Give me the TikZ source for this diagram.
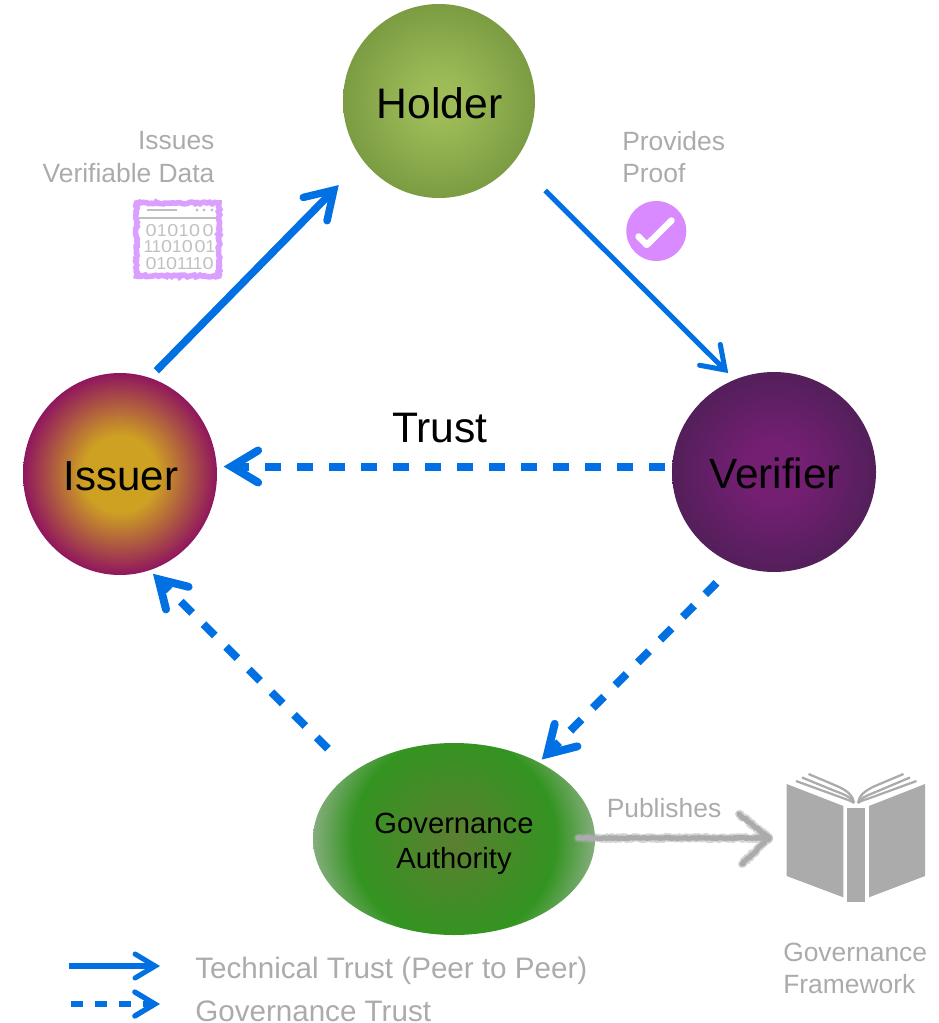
\documentclass[tikz,border=0pt]{standalone}
\usepackage{fontspec}
\setmainfont{Liberation Sans}
\usetikzlibrary{arrows.meta,shapes.geometric,decorations.pathmorphing,calc}
\definecolor{linkblue}{HTML}{0070E2}
\definecolor{softgray}{HTML}{ABABAB}
\definecolor{bookgray}{HTML}{ABABAB}
\definecolor{digitgray}{HTML}{C0C0C0}
\definecolor{lilac}{HTML}{D98AFF}
\definecolor{frameline}{HTML}{DBA0FF}
\definecolor{hA}{HTML}{9DBC58}\definecolor{hB}{HTML}{7C9C43}
\definecolor{iA}{HTML}{CEA122}\definecolor{iB}{HTML}{90165E}
\definecolor{vA}{HTML}{751F73}\definecolor{vB}{HTML}{531F5A}
\definecolor{gA}{HTML}{5C7F32}\definecolor{gB}{HTML}{339420}\definecolor{gC}{HTML}{85AD7D}
\pgfdeclareradialshading{holdershade}{\pgfpointorigin}{color(0bp)=(hA); color(5bp)=(hA); color(25bp)=(hB); color(50bp)=(hB)}
\pgfdeclareradialshading{issuershade}{\pgfpointorigin}{color(0bp)=(iA); color(9.5bp)=(iA); color(25bp)=(iB); color(50bp)=(iB)}
\pgfdeclareradialshading{verifiershade}{\pgfpointorigin}{color(0bp)=(vA); color(7bp)=(vA); color(25bp)=(vB); color(50bp)=(vB)}
\pgfdeclareradialshading{govshade}{\pgfpointorigin}{color(0bp)=(gA); color(18bp)=(gB); color(25bp)=(gC); color(50bp)=(gC)}
\newcommand\fs[1]{\fontsize{#1pt}{#1pt}\selectfont}
\newcommand\dn[2]{\raisebox{-#1}[\height][\depth]{#2}}
\newcommand\oz{\makebox[8.25pt]{\scalebox{1.15}[1]{0}}}
\newcommand\on{\makebox[4.5pt]{1}}
\newcommand\digitrow[1]{\makebox[51pt][s]{#1}}
\tikzset{
  actor/.style={ellipse,inner sep=0pt,outer sep=0pt,text=black},
  solidlink/.style={draw=linkblue,line width=5.6pt,-{Straight Barb[length=20pt,width=25pt,line cap=round]}},
  thinlink/.style={draw=linkblue,line width=3.8pt,-{Straight Barb[length=16pt,width=22pt,line cap=round]}},
  dashlink/.style={draw=linkblue,line width=6pt,dash pattern=on 12pt off 12pt,-{Straight Barb[length=20pt,width=24pt,line cap=round]}},
  keysolid/.style={draw=linkblue,line width=3.8pt,-{Straight Barb[length=15pt,width=18pt,line cap=round]}},
  keydash/.style={draw=linkblue,line width=4pt,dash pattern=on 9pt off 9pt,-{Straight Barb[length=15pt,width=18pt,line cap=round]}},
  smalllabel/.style={text=softgray,font=\fs{19.8},inner sep=0pt},
  keylabel/.style={text=softgray,font=\fs{22.2},anchor=west,inner sep=0pt},
  fuzzywide/.style={draw=softgray,opacity=.5,line width=6pt,decorate,decoration={random steps,segment length=1pt,amplitude=.9pt},line cap=round,line join=round},
  fuzzycore/.style={draw=softgray,line width=3.8pt,decorate,decoration={random steps,segment length=1pt,amplitude=.6pt},line cap=round,line join=round},
  pageline/.style={draw=bookgray,line width=1.7pt},
  digits/.style={text=digitgray,font=\fs{12.9},inner sep=0pt},
}
\begin{document}
\begin{tikzpicture}[x=.75pt,y=-.75pt]
\useasboundingbox (0,0) rectangle (938,1023);
% actors
\node[actor,minimum width=144pt,minimum height=145.5pt,shading=holdershade,font=\fs{32}] (holder) at (439,101) {\hspace{1pt}\dn{1.9pt}{Holder}};
\node[actor,minimum width=145.5pt,minimum height=151.5pt,shading=issuershade,font=\fs{31.5}] (issuer) at (120,474) {\hspace{1.5pt}\dn{1.5pt}{Issuer}};
\node[actor,minimum width=153pt,minimum height=150pt,shading=verifiershade,font=\fs{31.7}] (verifier) at (774,472) {\hspace{1.5pt}\dn{.7pt}{Verifier}};
\node[actor,minimum width=211.5pt,minimum height=144pt,align=center,font=\fontsize{21.9pt}{26.25pt}\selectfont,
  path picture={\shade[shading=govshade] (path picture bounding box.center) circle (141);}] (gov) at (454,839) {\dn{3.75pt}{Governance}\\\dn{3.75pt}{Authority}};
% trust links
\coordinate (lane) at (440,466.5);
\draw[solidlink,shorten <=7.4pt,shorten >=26pt] (issuer.73.9) -- (holder.218.66);
\draw[thinlink,shorten <=32pt,shorten >=7pt] (holder.-38.4) -- (verifier.113.8);
\draw[dashlink,shorten <=5pt,shorten >=5pt] (lane -| verifier.west) -- (lane -| issuer.east);
\draw[dashlink,shorten <=19.5pt,shorten >=3pt] (verifier.247.4) -- (gov.42.5);
\draw[dashlink,shorten <=25.5pt,shorten >=3.75pt] (gov.147.1) -- (issuer.-73);
\node[font=\fs{32},text=black,inner sep=0pt] (trust) at (440,428) {Trust};
% issued data icon
\node[smalllabel,anchor=east] (issues) at (214.7,141) {Issues};
\node[smalllabel,anchor=east] (vdata) at (214.7,173) {Verifiable Data};
\draw[draw=frameline,line width=4.2pt,decorate,decoration={random steps,segment length=1.5pt,amplitude=.7pt}] (136.5,203) rectangle (219,276);
\draw[draw=digitgray,line width=1.5pt] (147,210) -- (177,210);
\foreach \dx in {197,204,212} \fill[digitgray] (\dx,210) circle (1.6);
\draw[draw=digitgray,line width=1.5pt] (139,218) -- (216,218);
\node[digits] (rowa) at (179.5,231) {\digitrow{\oz\hfill\on\hfill\oz\hfill\on\hfill\oz\hfill\oz}};
\node[digits] (rowb) at (179.5,247) {\digitrow{\on\hfill\on\hfill\oz\hfill\on\hfill\oz\hfill\oz\hfill\on}};
\node[digits] (rowc) at (179.5,264) {\digitrow{\oz\hfill\on\hfill\oz\hfill\on\hfill\on\hfill\on\hfill\oz}};
% proof icon
\node[smalllabel,anchor=west] (provides) at (622,141) {Provides};
\node[smalllabel,anchor=west] (proof) at (622,173) {Proof};
\node[circle,fill=lilac,minimum size=45pt,inner sep=0pt] (check) at (656.3,231) {};
\draw[draw=white,line width=4.8pt,line cap=round,line join=round] (638.5,236.5) -- (646.7,245) -- (671.5,220.5);
% publishes arrow
\coordinate (pubstart) at (578,838);
\coordinate (pubtip) at (769,838);
\coordinate (pubup) at (739,814);
\coordinate (pubdown) at (742,864);
\draw[fuzzywide] (pubstart) -- (pubtip);
\draw[fuzzywide] (pubup) -- (pubtip) -- (pubdown);
\draw[fuzzycore] (pubstart) -- (pubtip);
\draw[fuzzycore] (pubup) -- (pubtip) -- (pubdown);
\node[smalllabel] (publishes) at (664,808) {Publishes};
% book
\fill[bookgray] (786.7,784) -- (843.3,806) -- (843.3,897.3) -- (786.7,876) -- cycle;
\fill[bookgray] (925,784) -- (869,806) -- (869,897.3) -- (925,876) -- cycle;
\fill[bookgray] (846.7,807.7) rectangle (865.3,901.7);
\draw[pageline] (796,781) -- (840,797) .. controls (848,800) and (852,801) .. (854,803);
\draw[pageline] (802,777.5) -- (835,791) .. controls (846,795) and (852,798) .. (854,803);
\draw[pageline] (808.5,774) -- (838,786.5) .. controls (848,791) and (853,796) .. (854,803);
\draw[pageline] (916.5,781) -- (870,798) .. controls (864,800) and (860,801) .. (858,803);
\draw[pageline] (910,777.5) -- (878,791) .. controls (866,796) and (860,798) .. (858,803);
\draw[pageline] (903.5,774) -- (875,786) .. controls (864,791) and (859,796) .. (858,803);
\node[smalllabel,anchor=west] (gfa) at (783,952) {Governance};
\node[smalllabel,anchor=west] (gfb) at (783,984) {Framework};
% legend
\coordinate (solA) at (69,966);
\coordinate (solB) at (160,966);
\coordinate (dasA) at (71,1004);
\coordinate (dasB) at (160,1004);
\draw[keysolid] (solA) -- (solB);
\draw[keydash] (dasA) -- (dasB);
\node[keylabel] (techkey) at (195,971) {Technical Trust (Peer to Peer)};
\node[keylabel] (govkey) at (195,1011) {Governance Trust};
\end{tikzpicture}
\end{document}
